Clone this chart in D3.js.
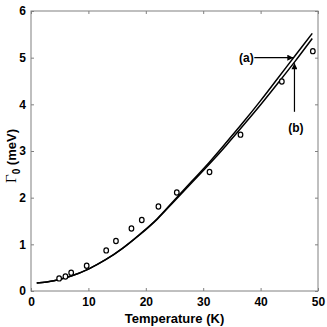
<!DOCTYPE html>
<meta charset="utf-8">
<head>
  <script src="https://cdn.jsdelivr.net/npm/d3@7"></script>
  <style>
    body { margin: 0; background: #fff; }
    svg { display: block; }
    .tick text { font-family: "Liberation Sans", Arial, sans-serif; font-weight: bold; font-size: 12px; fill: #000; }
  </style>
</head>
<body>
<div id="chart"></div>
<script>

// measured points (circles)
var tempObs  = [4.9, 6.0, 7.0, 9.7, 13.1, 14.8, 17.5, 19.3, 22.2, 25.4, 31.1, 36.5, 43.7, 49.1];
var gammaObs = [0.27, 0.31, 0.39, 0.54, 0.87, 1.07, 1.34, 1.52, 1.81, 2.11, 2.55, 3.35, 4.49, 5.14];

// calculated curves (a) and (b)
var tempCurve = [1, 4, 7, 10, 13, 16, 19, 22, 25, 28, 31, 34, 37, 40, 43, 46, 49];
var gammaA = [0.17, 0.22, 0.32, 0.47, 0.67, 0.92, 1.22, 1.55, 1.95, 2.35, 2.75, 3.18, 3.62, 4.08, 4.56, 5.04, 5.52];
var gammaB = [0.17, 0.22, 0.32, 0.47, 0.67, 0.92, 1.21, 1.54, 1.93, 2.32, 2.71, 3.12, 3.55, 3.99, 4.45, 4.92, 5.41];

var xTicks = [0, 10, 20, 30, 40, 50];
var yTicks = [0, 1, 2, 3, 4, 5, 6];

var margin = { top: 11, right: 9, bottom: 36, left: 31 },
  width = 327 - margin.left - margin.right,
  height = 327 - margin.top - margin.bottom;

var svg = d3.select("#chart")
  .append("svg")
  .attr("width", 327)
  .attr("height", 327)
  .append("g")
  .attr("transform", "translate(" + margin.left + "," + margin.top + ")");

var x = d3.scaleLinear().domain([0, 50]).range([0, width]);
var y = d3.scaleLinear().domain([0, 6]).range([height, 0]);

var axisColor = "#808080";

// axes, ticks pointing inward on all four sides
function styleAxis(g) {
  g.select(".domain").remove();
  g.selectAll(".tick line").attr("stroke", axisColor);
}

svg.append("g")
  .attr("transform", "translate(0," + height + ")")
  .call(d3.axisBottom(x).tickValues(xTicks).tickSizeInner(-3).tickSizeOuter(0).tickPadding(6).tickFormat(d3.format("d")))
  .call(styleAxis);

svg.append("g")
  .call(d3.axisTop(x).tickValues(xTicks).tickSizeInner(-3).tickSizeOuter(0).tickFormat(""))
  .call(styleAxis);

svg.append("g")
  .call(d3.axisLeft(y).tickValues(yTicks).tickSizeInner(-3).tickSizeOuter(0).tickPadding(5).tickFormat(d3.format("d")))
  .call(styleAxis);

svg.append("g")
  .attr("transform", "translate(" + width + ",0)")
  .call(d3.axisRight(y).tickValues(yTicks).tickSizeInner(-3).tickSizeOuter(0).tickFormat(""))
  .call(styleAxis);

svg.append("rect")
  .attr("width", width)
  .attr("height", height)
  .attr("fill", "none")
  .attr("stroke", axisColor)
  .attr("stroke-width", 1);

// curves
var line = d3.line()
  .x(function (d) { return x(d[0]); })
  .y(function (d) { return y(d[1]); })
  .curve(d3.curveMonotoneX);

[gammaA, gammaB].forEach(function (g) {
  svg.append("path")
    .datum(tempCurve.map(function (t, i) { return [t, g[i]]; }))
    .attr("fill", "none")
    .attr("stroke", "#000")
    .attr("stroke-width", 1.5)
    .attr("d", line);
});

// data circles
svg.selectAll("ellipse.obs")
  .data(tempObs)
  .enter()
  .append("ellipse")
  .attr("class", "obs")
  .attr("cx", function (d) { return x(d); })
  .attr("cy", function (d, i) { return y(gammaObs[i]); })
  .attr("rx", 2.3)
  .attr("ry", 2.6)
  .attr("fill", "#fff")
  .attr("stroke", "#000")
  .attr("stroke-width", 1.2);

// annotations
var defs = svg.append("defs");
defs.append("marker")
  .attr("id", "head")
  .attr("viewBox", "0 0 10 10")
  .attr("refX", 10).attr("refY", 5)
  .attr("markerWidth", 7).attr("markerHeight", 6)
  .attr("markerUnits", "userSpaceOnUse")
  .attr("orient", "auto")
  .append("path")
  .attr("d", "M0,0 L10,5 L0,10 z")
  .attr("fill", "#000");

svg.append("line")
  .attr("x1", x(38.9)).attr("y1", y(5.0))
  .attr("x2", x(45.7)).attr("y2", y(5.0))
  .attr("stroke", "#000").attr("stroke-width", 1.2)
  .attr("marker-end", "url(#head)");

svg.append("text")
  .attr("x", x(38.8)).attr("y", y(5.0) + 4.5)
  .attr("text-anchor", "end")
  .style("font-family", "Liberation Sans, Arial, sans-serif")
  .style("font-weight", "bold")
  .style("font-size", "12px")
  .text("(a)");

svg.append("line")
  .attr("x1", x(45.9)).attr("y1", y(3.84))
  .attr("x2", x(45.9)).attr("y2", y(4.88))
  .attr("stroke", "#000").attr("stroke-width", 1.2)
  .attr("marker-end", "url(#head)");

svg.append("text")
  .attr("x", x(46.15)).attr("y", y(3.4))
  .attr("text-anchor", "middle")
  .style("font-family", "Liberation Sans, Arial, sans-serif")
  .style("font-weight", "bold")
  .style("font-size", "12px")
  .text("(b)");

// axis titles
svg.append("text")
  .attr("x", width / 2)
  .attr("y", height + 32)
  .attr("text-anchor", "middle")
  .style("font-family", "Liberation Sans, Arial, sans-serif")
  .style("font-weight", "bold")
  .style("font-size", "13px")
  .text("Temperature (K)");

var yl = svg.append("text")
  .attr("transform", "translate(" + (-15) + "," + (height / 2 + 5) + ") rotate(-90)")
  .attr("text-anchor", "middle")
  .style("font-family", "Liberation Sans, Arial, sans-serif")
  .style("font-weight", "bold")
  .style("font-size", "13px");
yl.append("tspan")
  .style("font-family", "Liberation Serif, Times New Roman, serif")
  .style("font-weight", "normal")
  .style("font-size", "15px")
  .text("\u0393");
yl.append("tspan")
  .attr("dy", 4)
  .style("font-size", "10px")
  .text("0");
yl.append("tspan")
  .attr("dy", -4)
  .text(" (meV)");

</script>
</body>
